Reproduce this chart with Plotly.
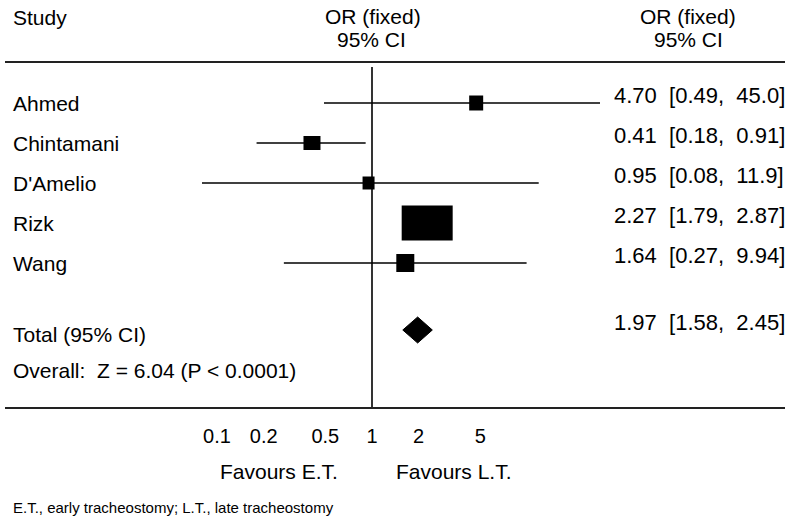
import plotly.graph_objects as go

# ---------------- data ----------------
studies = ["Ahmed", "Chintamani", "D'Amelio", "Rizk", "Wang"]
or_est = [4.70, 0.41, 0.95, 2.27, 1.64]
ci_low = [0.49, 0.18, 0.08, 1.79, 0.27]
ci_high = [45.0, 0.91, 11.9, 2.87, 9.94]

total_label = "Total (95% CI)"
total_est = 1.97
total_low = 1.58
total_high = 2.45
overall_text = "Overall:  Z = 6.04 (P < 0.0001)"

tick_vals = [0.1, 0.2, 0.5, 1, 2, 5]
tick_text = ["0.1", "0.2", "0.5", "1", "2", "5"]
null_value = 1

header_left = "Study"
header_mid = ["OR (fixed)", "95% CI"]
header_right = ["OR (fixed)", "95% CI"]
favours_left = "Favours E.T."
favours_right = "Favours L.T."
footnote = "E.T., early tracheostomy; L.T., late tracheostomy"

# ---------------- style / layout ----------------
W, H = 800, 522
FONT = "Liberation Sans, Arial, sans-serif"
FS = 21
box_w = [14, 17, 12, 51, 18]   # px, study weight boxes
box_h = [15, 14, 13, 35, 18]
ROW0_PX, ROW_PX = 103, 40      # first row centre and row spacing in pixels
PLOT_BOTTOM_PX = 422
X_LEFT_PX, X_RIGHT_PX, NULL_PX, PX_PER_DEC = 180, 600, 372, 155


def fmt(v):
    return f"{v:.1f}" if v >= 10 else f"{v:.2f}"


def py(px):
    return 1 - px / H


def row_of(px):
    return (px - ROW0_PX) / ROW_PX


rows = list(range(len(studies)))
total_row = row_of(330)
overall_row = row_of(370)

fig = go.Figure()

# CI lines
xs, ys = [], []
for lo, hi, r in zip(ci_low, ci_high, rows):
    xs += [lo, hi, None]
    ys += [r, r, None]
fig.add_trace(go.Scatter(x=xs, y=ys, mode="lines",
                         line=dict(color="black", width=1.6),
                         hoverinfo="skip", showlegend=False))

# null line
fig.add_trace(go.Scatter(x=[null_value, null_value], y=[row_of(67), row_of(408)],
                         mode="lines", line=dict(color="black", width=1.6),
                         hoverinfo="skip", showlegend=False))

# weight boxes (rectangles made from thick vertical line markers)
fig.add_trace(go.Scatter(
    x=or_est, y=rows, mode="markers",
    marker=dict(symbol="line-ns", size=[h / 1.4 for h in box_h], color="black",
                opacity=1, line=dict(width=box_w, color="black")),
    showlegend=False, hoverinfo="skip"))

# diamond
dh = 13 / ROW_PX
fig.add_trace(go.Scatter(
    x=[total_low, total_est, total_high, total_est, total_low],
    y=[total_row, total_row - dh, total_row, total_row + dh, total_row],
    mode="lines", fill="toself", fillcolor="black",
    line=dict(color="black", width=1), showlegend=False, hoverinfo="skip"))

ann = []


def text(t, x_px, y, anchor="left", yref="paper", size=FS, family=FONT):
    ann.append(dict(text=t, x=x_px / W, xref="paper", y=y, yref=yref,
                    xanchor=anchor, yanchor="middle", showarrow=False,
                    font=dict(family=family, size=size, color="black")))


# headers
text(header_left, 11, py(17))
text(header_mid[0], 373, py(16), "center")
text(header_mid[1], 371, py(40), "center")
text(header_right[0], 688, py(16), "center")
text(header_right[1], 688, py(40), "center")

NB = "\u00a0\u00a0"
for s, e, lo, hi, r in zip(studies, or_est, ci_low, ci_high, rows):
    text(s, 11, r, yref="y")
    text(f"{fmt(e)}{NB}[{fmt(lo)},{NB}{fmt(hi)}]", 612, r - 0.2, yref="y", size=22)

text(total_label, 11, total_row + 0.12, yref="y")
text(f"{fmt(total_est)}{NB}[{fmt(total_low)},{NB}{fmt(total_high)}]", 612,
     total_row - 0.18, yref="y", size=22)
text(overall_text, 11, overall_row, yref="y")

text(favours_left, 279, py(471), "center")
text(favours_right, 454, py(471), "center")
text(footnote, 11, py(507), size=15)

shapes = [
    dict(type="line", xref="paper", yref="paper", x0=5 / W, x1=785 / W,
         y0=py(62), y1=py(62), line=dict(color="#222", width=2)),
    dict(type="line", xref="paper", yref="paper", x0=5 / W, x1=785 / W,
         y0=py(408), y1=py(408), line=dict(color="#222", width=2)),
]

fig.update_layout(
    width=W, height=H, margin=dict(l=0, r=0, t=0, b=0),
    paper_bgcolor="white", plot_bgcolor="white",
    annotations=ann, shapes=shapes, showlegend=False,
    font=dict(family=FONT, size=FS, color="black"),
    xaxis=dict(type="log", domain=[X_LEFT_PX / W, X_RIGHT_PX / W],
               range=[-(NULL_PX - X_LEFT_PX) / PX_PER_DEC,
                      (X_RIGHT_PX - NULL_PX) / PX_PER_DEC],
               tickvals=tick_vals, ticktext=tick_text, ticks="",
               showgrid=False, zeroline=False, showline=False,
               tickfont=dict(family=FONT, size=20, color="black")),
    yaxis=dict(domain=[py(PLOT_BOTTOM_PX), 1],
               range=[row_of(PLOT_BOTTOM_PX), row_of(0)],
               visible=False, showgrid=False, zeroline=False),
)

fig.write_html("out.html",
               config={"displayModeBar": False},
               post_script="document.body.style.margin='0';"
                           "document.body.style.overflow='hidden';")
